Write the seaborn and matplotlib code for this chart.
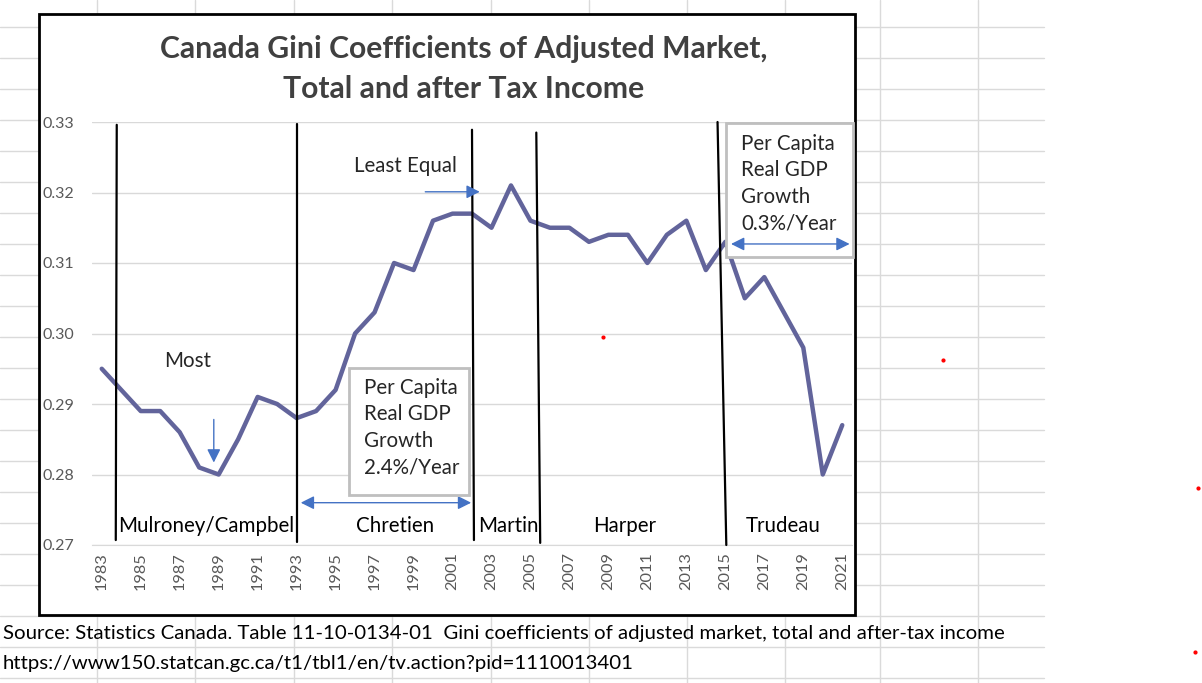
import numpy as np
import pandas as pd
import matplotlib
matplotlib.use('Agg')
import matplotlib.pyplot as plt
import seaborn as sns
from matplotlib.patches import Rectangle

# Gini coefficient (adjusted after-tax income), Canada
years = list(range(1983, 2022))
gini = [0.295, 0.292, 0.289, 0.289, 0.286, 0.281, 0.280, 0.285, 0.291, 0.290,
        0.288, 0.289, 0.292, 0.300, 0.303, 0.310, 0.309, 0.316, 0.317, 0.317,
        0.315, 0.321, 0.316, 0.315, 0.315, 0.313, 0.314, 0.314, 0.310, 0.314,
        0.316, 0.309, 0.313, 0.305, 0.308, 0.303, 0.298, 0.280, 0.287]

# hand-drawn boundaries between prime ministers (slightly tilted)
era_x_top = [1983.77, 1993.0, 2002.0, 2005.3, 2014.6]
era_x_bot = [1983.72, 1993.0, 2002.1, 2005.5, 2015.05]
era_y_top = [0.3296, 0.3297, 0.3289, 0.3285, 0.3300]
era_y_bot = [0.2707, 0.2704, 0.2707, 0.2703, 0.2700]

pm_names = ['Mulroney/Campbel', 'Chretien', 'Martin', 'Harper', 'Trudeau']
pm_x = [1988.34, 1998.05, 2003.85, 2009.81, 2017.98]

yticks = [0.27, 0.28, 0.29, 0.30, 0.31, 0.32, 0.33]
xtick_years = list(range(1983, 2022, 2))

title = 'Canada Gini Coefficients of Adjusted Market,\nTotal and after Tax Income'
source1 = 'Source: Statistics Canada. Table 11-10-0134-01  Gini coefficients of adjusted market, total and after-tax income'
source2 = 'https://www150.statcan.gc.ca/t1/tbl1/en/tv.action?pid=1110013401'

df = pd.DataFrame({'Year': years, 'Gini': gini})

sns.set_style('white')
plt.rcParams['font.family'] = ['Lato', 'DejaVu Sans']

W, H = 1202, 683
fig = plt.figure(figsize=(W / 100, H / 100), dpi=100)

# spreadsheet background
bg = fig.add_axes([0, 0, 1, 1])
bg.set_xlim(0, W)
bg.set_ylim(H, 0)
bg.axis('off')
grid_col = '#dadada'
for y in np.arange(27, H, 31):
    bg.plot([0, 1044], [y, y], color=grid_col, lw=1, zorder=0)
for x in [97, 195, 294, 392, 491, 589, 687, 785, 880, 978]:
    bg.plot([x, x], [0, H], color=grid_col, lw=1, zorder=0)
bg.add_patch(Rectangle((39, 14), 816, 601, facecolor='white', edgecolor='black', lw=2, zorder=1))
bg.text(464, 69, title, ha='center', va='center', fontsize=21.7, fontweight='bold',
        color='#404040', linespacing=1.52, zorder=2)
bg.text(3, 634, source1, ha='left', va='center', fontsize=14.7, color='black', zorder=2)
bg.text(3, 664, source2, ha='left', va='center', fontsize=14.7, color='black', zorder=2)
bg.scatter([603, 943, 1198, 1195], [337, 360, 488, 652], s=4, color='red', zorder=2)

# main plot area
ax = fig.add_axes([92 / W, (H - 545) / H, 760 / W, 423 / H])
ax.set_facecolor('none')
sns.lineplot(data=df, x='Year', y='Gini', ax=ax, color='#62649b', lw=3.2, zorder=3)
ax.set_xlim(1982.5, 2021.5)
ax.set_ylim(0.27, 0.33)
ax.set_yticks(yticks)
ax.set_yticklabels([f'{v:.2f}' for v in yticks], fontsize=11.5, color='#595959')
ax.set_xticks(xtick_years)
ax.set_xticklabels([str(y) for y in xtick_years], rotation=90, fontsize=11.8, color='#595959')
ax.tick_params(axis='y', length=0, pad=13)
ax.tick_params(axis='x', length=0, pad=5)
ax.set_xlabel('')
ax.set_ylabel('')
for s in ['top', 'right', 'left']:
    ax.spines[s].set_visible(False)
ax.spines['bottom'].set_color('#d9d9d9')
ax.yaxis.grid(True, color='#d9d9d9', lw=1)
ax.set_axisbelow(True)

for xt, xb, yt, yb in zip(era_x_top, era_x_bot, era_y_top, era_y_bot):
    ax.plot([xt, xb], [yt, yb], color='black', lw=1.6, zorder=4, clip_on=False)

fs = 14.8
for name, x in zip(pm_names, pm_x):
    ax.text(x, 0.2727, name, ha='center', va='center', fontsize=fs, color='black', zorder=5)

ax.text(1987.42, 0.2961, 'Most', ha='center', va='center', fontsize=fs, zorder=5)
ax.text(1998.56, 0.3238, 'Least Equal', ha='center', va='center', fontsize=fs, zorder=5)

arrow_col = '#4472c4'
ax.annotate('', xy=(1988.75, 0.2813), xytext=(1988.75, 0.2882),
            arrowprops=dict(arrowstyle='-|>', color=arrow_col, lw=1, mutation_scale=20), zorder=5)
ax.annotate('', xy=(2002.54, 0.3201), xytext=(1999.46, 0.3201),
            arrowprops=dict(arrowstyle='-|>', color=arrow_col, lw=1, mutation_scale=20), zorder=5)
ax.annotate('', xy=(2002.1, 0.2760), xytext=(1993.07, 0.2760),
            arrowprops=dict(arrowstyle='<|-|>', color=arrow_col, lw=1, mutation_scale=20), zorder=5)

# growth boxes
box_txt1 = 'Per Capita\nReal GDP\nGrowth\n2.4%/Year'
box_txt2 = 'Per Capita\nReal GDP\nGrowth\n0.3%/Year'
ax.add_patch(Rectangle((1995.69, 0.2771), 6.16, 0.0180, facecolor='white', edgecolor='#bfbfbf',
                       lw=2, zorder=5, clip_on=False))
ax.text(1996.46, 0.28667, box_txt1, ha='left', va='center', fontsize=fs, linespacing=1.4, zorder=6)
ax.add_patch(Rectangle((2015.05, 0.31085), 6.52, 0.01901, facecolor='white', edgecolor='#bfbfbf',
                       lw=2, zorder=5, clip_on=False))
ax.text(2015.82, 0.32128, box_txt2, ha='left', va='center', fontsize=fs, linespacing=1.4, zorder=6)
ax.annotate('', xy=(2021.52, 0.3127), xytext=(2015.15, 0.3127),
            arrowprops=dict(arrowstyle='<|-|>', color=arrow_col, lw=1, mutation_scale=20),
            zorder=7, annotation_clip=False)

fig.savefig('out.png', dpi=100)
